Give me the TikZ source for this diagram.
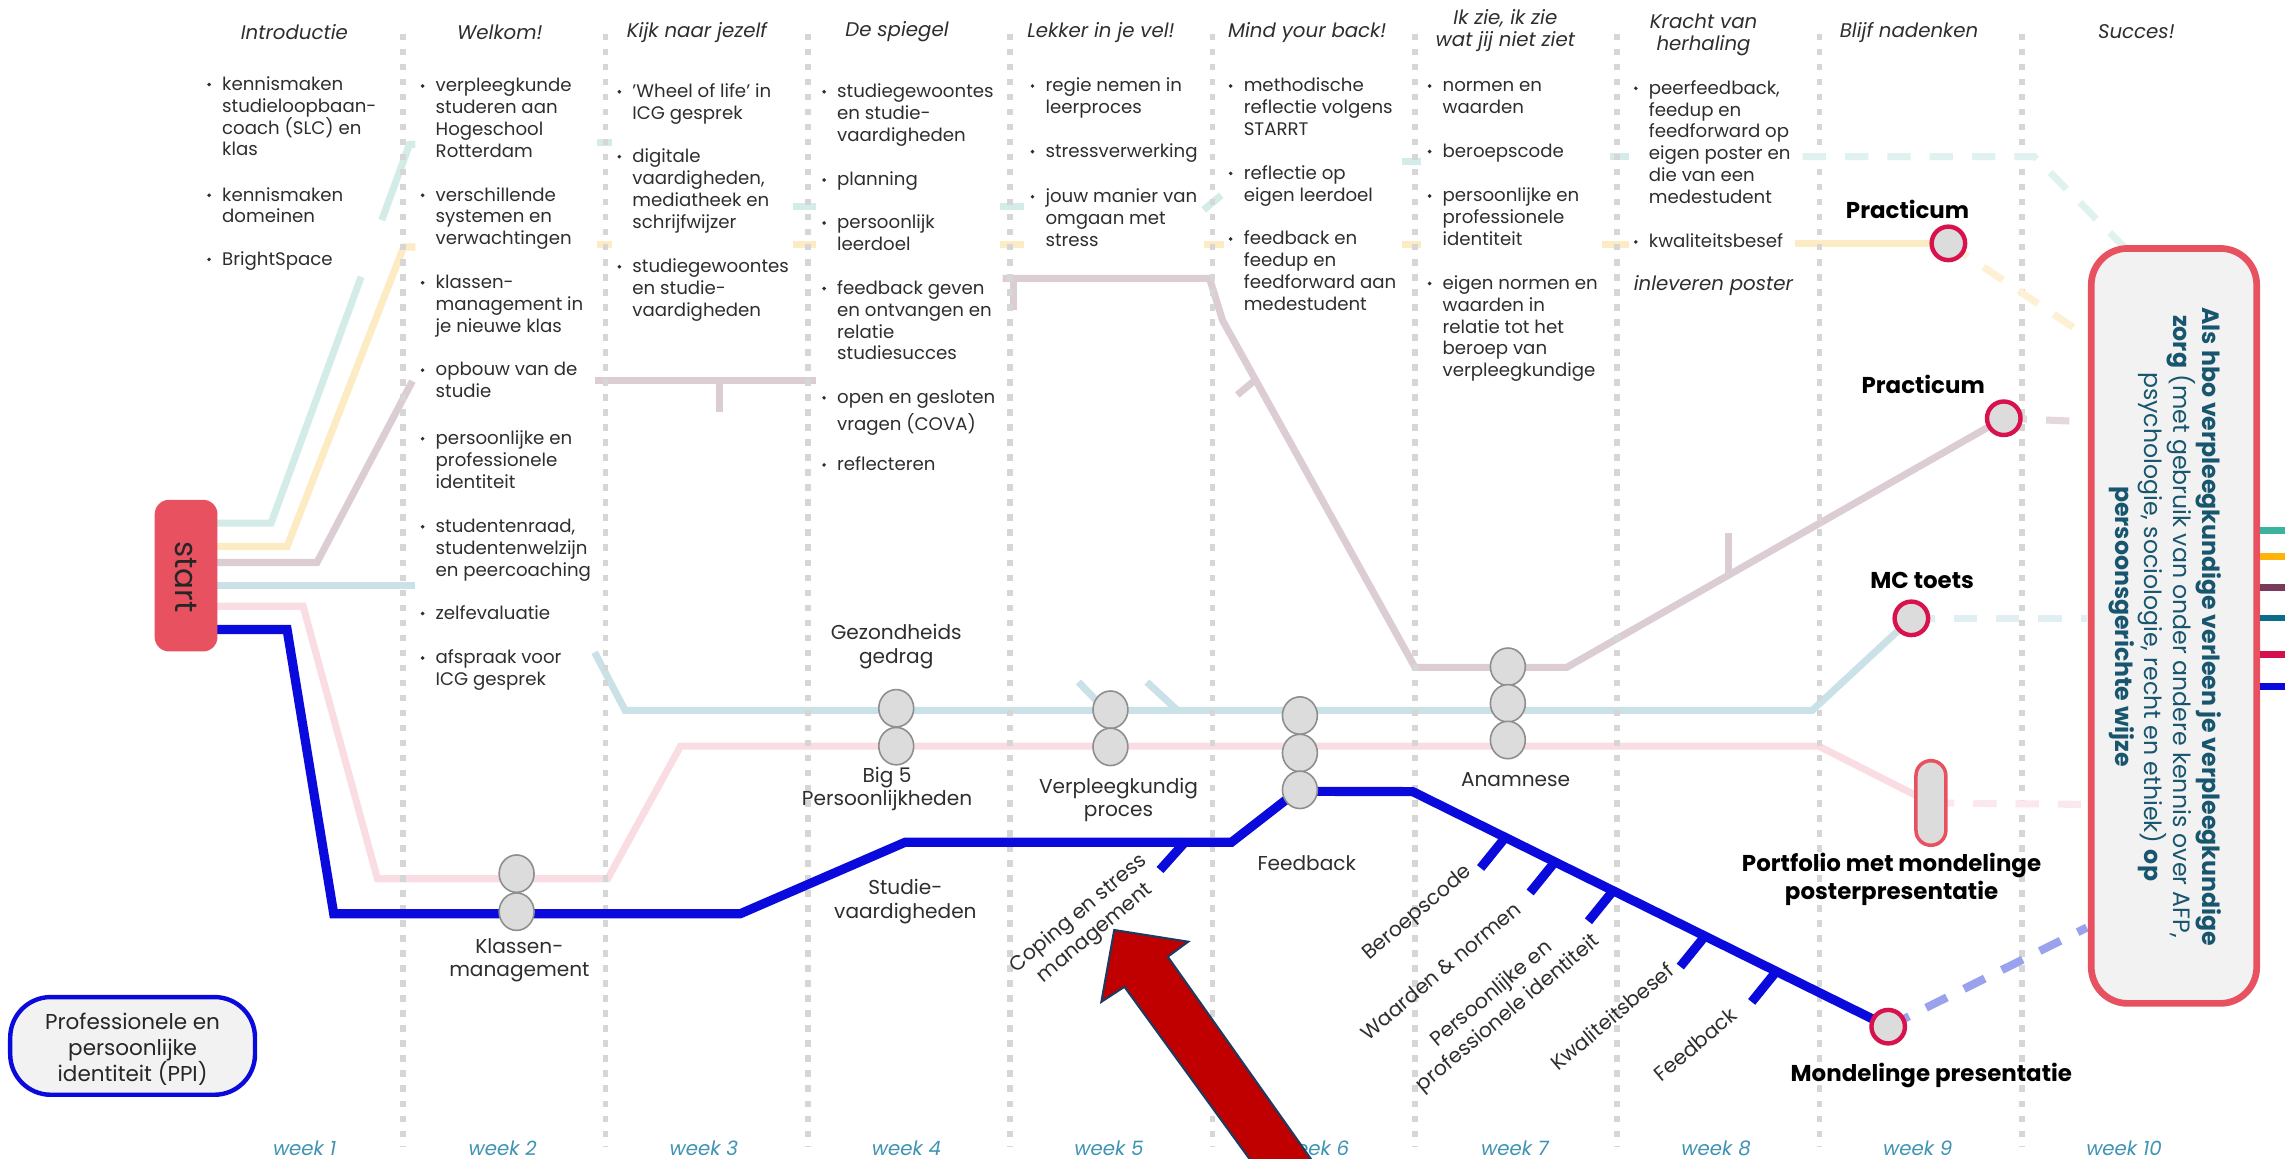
\documentclass[tikz,border=0pt]{standalone}
\usepackage{fontspec}
\setmainfont{Poppins}
\usetikzlibrary{shapes.geometric}
\definecolor{vgray}{HTML}{D6D6D6}
\definecolor{mintc}{HTML}{D3ECE8}
\definecolor{mintd}{HTML}{E0F2EF}
\definecolor{yelc}{HTML}{FDEBC4}
\definecolor{yeld}{HTML}{FDF0D4}
\definecolor{mauc}{HTML}{DCCDD5}
\definecolor{maud}{HTML}{E4D8DE}
\definecolor{lbc}{HTML}{CAE2E7}
\definecolor{lbd}{HTML}{E2EFF2}
\definecolor{pkc}{HTML}{F9DDE3}
\definecolor{pkd}{HTML}{FBE8EC}
\definecolor{bbl}{HTML}{0A0ADC}
\definecolor{lav}{HTML}{9AA2EE}
\definecolor{crim}{HTML}{D8124C}
\definecolor{coral}{HTML}{E8515F}
\definecolor{stg}{HTML}{DCDCDC}
\definecolor{stb}{HTML}{8E8E8E}
\definecolor{txtc}{HTML}{2E2E2E}
\definecolor{weekc}{HTML}{3F93B3}
\definecolor{boxt}{HTML}{17566E}
\definecolor{boxf}{HTML}{F2F2F2}
\definecolor{tmint}{HTML}{3CB39C}
\definecolor{tyel}{HTML}{FFB20A}
\definecolor{tmau}{HTML}{7A3A5C}
\definecolor{tteal}{HTML}{0B6D8A}
\definecolor{tcrim}{HTML}{D4104A}
\definecolor{arrf}{HTML}{C00000}
\definecolor{arrd}{HTML}{1F3A5F}
\newcommand{\fL}{\fontsize{5.15}{6.2}\selectfont}
\newcommand{\fH}{\fontsize{5.6}{6.2}\selectfont}
\newcommand{\fS}{\fontsize{5.7}{6.6}\selectfont}
\newcommand{\fR}{\fontsize{5.8}{7.2}\selectfont}
\newcommand{\fB}{\fontsize{6.5}{8}\selectfont\bfseries}
\newcommand{\fX}{\fontsize{6.7}{8.2}\selectfont}
\newcommand{\fP}{\fontsize{6.1}{7.3}\selectfont}
\newcommand{\bit}[4]{\fill[txtc] (#2-8.5,#3) circle[radius=1.35];
  \node[litem] (#1) at (#2,#3-7) {\strut #4};}
\begin{document}
\begin{tikzpicture}[x=0.4131pt,y=-0.4131pt,
  vline/.style={draw=vgray,line width=1.6pt,dash pattern=on 1.86pt off 2.4pt},
  pl/.style={line width=2pt},
  bl/.style={draw=bbl,line width=2.6pt},
  dl/.style={line width=2pt,dash pattern=on 6.6pt off 5.4pt},
  litem/.style={anchor=north west,inner sep=0pt,align=left,font=\fL,text=txtc},
  hdr/.style={inner sep=0pt,align=center,font=\fH\itshape,text=txtc},
  wk/.style={inner sep=0pt,font=\fH\itshape,text=weekc},
  slab/.style={inner sep=0pt,align=center,font=\fS,text=txtc},
  rlab/.style={inner sep=0pt,align=center,font=\fR,text=txtc,rotate=40},
  blab/.style={inner sep=0pt,align=center,font=\fB,text=black},
  gst/.style={ellipse,draw=stb,fill=stg,line width=0.45pt,minimum width=9.9pt,minimum height=10.6pt,inner sep=0pt},
  rst/.style={circle,draw=crim,fill=stg,line width=1.25pt,minimum size=9.5pt,inner sep=0pt}]
\useasboundingbox (0,0) rectangle (1568,795);
\fill[white] (0,0) rectangle (1568,795);
\clip (0,0) rectangle (1568,795);
% station coordinates
\coordinate (p1) at (1337,167);
\coordinate (p2) at (1375,287);
\coordinate (mc) at (1311.6,424.3);
\coordinate (mp) at (1295.7,704.5);
\coordinate (pf) at (1325,551);
% ---------- pale lines ----------
\draw[pl,mintc] (149,359) -- (186,359) -- (247.8,190);
\draw[pl,mintc] (262,151) -- (281,99) -- (285,99);
\foreach \a/\b/\c/\d in {410/98/420/98,544/142/560/142,686/142/703/142,826/144/838/134,962/111/975/111,1105/107.5/1118/107.5}
  \draw[pl,mintc] (\a,\b) -- (\c,\d);
\draw[pl,yelc] (149,375) -- (197,375) -- (277,169.5) -- (285,169.5);
\foreach \a/\c in {410/420,544/560,686/703,826/840,962/975,1099/1118}
  \draw[pl,yelc] (\a,168) -- (\c,168);
\draw[pl,yelc] (1232,167) -- (p1);
\draw[pl,mauc] (149,386) -- (217.5,386) -- (283,261.5);
\draw[pl,mauc] (408,261) -- (560,261);
\draw[pl,mauc] (494,261) -- (494,283);
\draw[pl,mauc] (688,191) -- (830,191) -- (839,220) -- (971,458) -- (1075,458) -- (p2);
\draw[pl,mauc] (695.5,191) -- (695.5,213);
\draw[pl,mauc] (861,261) -- (849,271);
\draw[pl,mauc] (1186,394) -- (1186,366);
\draw[pl,lbc] (149,402) -- (285,402);
\draw[pl,lbc] (408,447.6) -- (429,487.5) -- (1243.5,487.5) -- (mc);
\draw[pl,lbc] (759,487.5) -- (740,468);
\draw[pl,lbc] (808,487.5) -- (787,468);
\draw[pl,pkc] (149,416) -- (208,416) -- (259,603) -- (417,603) -- (467,512) -- (1248,512) -- (pf);
% ---------- vertical week separators ----------
\foreach \k in {0,...,8}
  \draw[vline] ({276.6+138.86*\k},23) -- ({276.6+138.86*\k},787);
% ---------- dashed connectors to goal ----------
\draw[dl,mintd] (1237,107.5) -- (1396,107.5) -- (1458,170);
\draw[dl,yeld] (p1) -- (1432,231);
\draw[dl,maud] (p2) -- (1432,289.4);
\draw[dl,lbd] (mc) -- (1432,424.3);
\draw[dl,pkd] (pf) -- (1432,552);
\draw[dl,lav,line width=2.3pt] (mp) -- (1432,636.5);
% ---------- blue line ----------
\draw[bl] (149,432) -- (197,432) -- (229,627) -- (508,627) -- (621,578) -- (845,578) -- (890,543) -- (969.4,543.2) -- (mp);
\draw[bl] (813,578) -- (796,597);
\foreach \x in {1033,1067,1107,1170,1219}
  \draw[bl] (\x,{543.2+0.494*(\x-969.4)}) -- ++(-17,21);
% ---------- grey stations ----------
\node[gst] (km1) at (354.5,599.5) {};
\node[gst] (km2) at (354.5,625.6) {};
\node[gst] (bg1) at (615,486) {};
\node[gst] (bg2) at (615,512) {};
\node[gst] (vp1) at (762,487) {};
\node[gst] (vp2) at (762,512.5) {};
\node[gst] (fb1) at (892,491) {};
\node[gst] (fb2) at (892,516.7) {};
\node[gst] (fb3) at (892,542) {};
\node[gst] (an1) at (1034.7,457.5) {};
\node[gst] (an2) at (1034.7,482.6) {};
\node[gst] (an3) at (1034.7,507.8) {};
% ---------- red stations ----------
\node[rst] (p1n) at (p1) {};
\node[rst] (p2n) at (p2) {};
\node[rst] (mcn) at (mc) {};
\node[rst] (mpn) at (mp) {};
\node[draw=coral,fill=stg,line width=1pt,minimum width=8.47pt,minimum height=23.96pt,rounded corners=4.2pt,inner sep=0pt] (pfn) at (pf) {};
% ---------- start and boxes ----------
\node[fill=coral,rounded corners=4.1pt,minimum width=17.8pt,minimum height=43pt,inner sep=0pt] (start) at (127.7,395) {};
\node[rotate=-90,font=\fontsize{8.8}{10}\selectfont,text=black!85,inner sep=0pt] (startt) at (127.7,396) {start};
\node[draw=bbl,line width=1.25pt,fill=boxf,rounded corners=11.5pt,minimum width=69.4pt,minimum height=27.7pt,inner sep=0pt] (ppi) at (91,717.7) {};
\node[inner sep=0pt,align=center,font=\fP,text=black!85] (ppit) at (91,720) {Professionele en\\persoonlijke\\identiteit (PPI)};
\node[draw=coral,line width=1.9pt,fill=boxf,rounded corners=10.3pt,minimum width=46.9pt,minimum height=214pt,inner sep=0pt] (goal) at (1491.8,429.5) {};
\node[rotate=-90,inner sep=0pt,align=center,font=\fX,text=boxt] (goalt) at (1485.8,430) {\textbf{Als hbo verpleegkundige verleen je verpleegkundige}\\\textbf{zorg} (met gebruik van onder andere kennis over AFP,\\psychologie, sociologie, recht en ethiek) \textbf{op}\\\textbf{persoonsgerichte wijze}};
\foreach \y/\c in {364/tmint,382/tyel,403/tmau,424/tteal,449/tcrim,471/bbl}
  \draw[\c,line width=1.9pt] (1551,\y) -- (1568,\y);
% ---------- headers ----------
\node[hdr] (h1) at (202,22) {Introductie};
\node[hdr] (h2) at (343,22) {Welkom!};
\node[hdr] (h3) at (478.2,22) {Kijk naar jezelf};
\node[hdr] (h4) at (615.5,22) {De spiegel};
\node[hdr] (h5) at (755.5,22) {Lekker in je vel!};
\node[hdr] (h6) at (897,22) {Mind your back!};
\node[hdr] (h7) at (1033,21.2) {Ik zie, ik zie\\wat jij niet ziet};
\node[hdr] (h8) at (1169,24) {Kracht van\\herhaling};
\node[hdr] (h9) at (1310,22) {Blijf nadenken};
\node[hdr] (h10) at (1466,22) {Succes!};
% ---------- weeks ----------
\foreach \n/\x in {1/209,2/345,3/483,4/622,5/761,6/902,7/1039.5,8/1177.6,9/1316,10/1457.5}
  \node[wk] (w\n) at (\x,788) {week \n};
% ---------- lists ----------
\bit{a1}{152}{58}{kennismaken\\studieloopbaan-\\coach (SLC) en\\klas}
\bit{a2}{152}{134}{kennismaken\\domeinen}
\bit{a3}{152}{178}{BrightSpace}
\bit{b1}{298.5}{59}{verpleegkunde\\studeren aan\\Hogeschool\\Rotterdam}
\bit{b2}{298.5}{134}{verschillende\\systemen en\\verwachtingen}
\bit{b3}{298.5}{194}{klassen-\\management in\\je nieuwe klas}
\bit{b4}{298.5}{254}{opbouw van de\\studie}
\bit{b5}{298.5}{301}{persoonlijke en\\professionele\\identiteit}
\bit{b6}{298.5}{361.5}{studentenraad,\\studentenwelzijn\\en peercoaching}
\bit{b7}{298.5}{421}{zelfevaluatie}
\bit{b8}{298.5}{451.5}{afspraak voor\\ICG gesprek}
\bit{c1}{433.5}{63}{'Wheel of life' in\\ICG gesprek}
\bit{c2}{433.5}{107.5}{digitale\\vaardigheden,\\mediatheek en\\schrijfwijzer}
\bit{c3}{433.5}{183}{studiegewoontes\\en studie-\\vaardigheden}
\bit{d1}{574}{63}{studiegewoontes\\en studie-\\vaardigheden}
\bit{d2}{574}{123.5}{planning}
\bit{d3}{574}{153}{persoonlijk\\leerdoel}
\bit{d4}{574}{198}{feedback geven\\en ontvangen en\\relatie\\studiesucces}
\bit{d5}{574}{273}{open en gesloten\\vragen (COVA)}
\bit{d6}{574}{319}{reflecteren}
\bit{e1}{717}{59}{regie nemen in\\leerproces}
\bit{e2}{717}{104}{stressverwerking}
\bit{e3}{717}{135}{jouw manier van\\omgaan met\\stress}
\bit{f1}{853}{59}{methodische\\reflectie volgens\\STARRT}
\bit{f2}{853}{119}{reflectie op\\eigen leerdoel}
\bit{f3}{853}{164}{feedback en\\feedup en\\feedforward aan\\medestudent}
\bit{g1}{989.5}{59}{normen en\\waarden}
\bit{g2}{989.5}{104}{beroepscode}
\bit{g3}{989.5}{134.5}{persoonlijke en\\professionele\\identiteit}
\bit{g4}{989.5}{194.5}{eigen normen en\\waarden in\\relatie tot het\\beroep van\\verpleegkundige}
\bit{k1}{1131}{60.6}{peerfeedback,\\feedup en\\feedforward op\\eigen poster en\\die van een\\medestudent}
\bit{k2}{1131}{166}{kwaliteitsbesef}
\node[anchor=west,inner sep=0pt,font=\fH\itshape,text=txtc] (k3) at (1120.6,196) {inleveren poster};
% ---------- station labels ----------
\node[slab] (lkm) at (356.4,658.7) {Klassen-\\management};
\node[slab] (lgz) at (615,443.7) {Gezondheids\\gedrag};
\node[slab] (lbg) at (608.7,541.5) {Big 5\\Persoonlijkheden};
\node[slab] (lvp) at (767.5,549) {Verpleegkundig\\proces};
\node[slab] (lsv) at (621.3,618.7) {Studie-\\vaardigheden};
\node[slab] (lfb) at (896.7,592.4) {Feedback};
\node[slab] (lan) at (1040,535) {Anamnese};
\node[rlab] (rcs) at (746,634) {Coping en stress\\management};
\node[rlab] (rbc) at (972.8,626.8) {Beroepscode};
\node[rlab] (rwn) at (988.5,666.2) {Waarden \& normen};
\node[rlab] (rpi) at (1029.5,689) {Persoonlijke en\\professionele identiteit};
\node[rlab] (rkb) at (1106,697.7) {Kwaliteitsbesef};
\node[rlab] (rfb) at (1163.3,716.5) {Feedback};
\node[blab] (lp1) at (1309,143.7) {Practicum};
\node[blab] (lp2) at (1319.7,264) {Practicum};
\node[blab] (lmc) at (1319,398) {MC toets};
\node[blab] (lpf) at (1298,603.3) {Portfolio met mondelinge\\posterpresentatie};
\node[blab] (lmp) at (1325.3,737.7) {Mondelinge presentatie};
% ---------- big arrow ----------
\draw[fill=arrf,draw=arrd,line width=0.6pt,line join=miter]
  (764.6,638.2) -- (815.3,646.2) -- (801.3,656.5) -- (924.1,830) -- (882.7,830) -- (771.6,677.1) -- (755.8,687.4) -- cycle;
\end{tikzpicture}
\end{document}
